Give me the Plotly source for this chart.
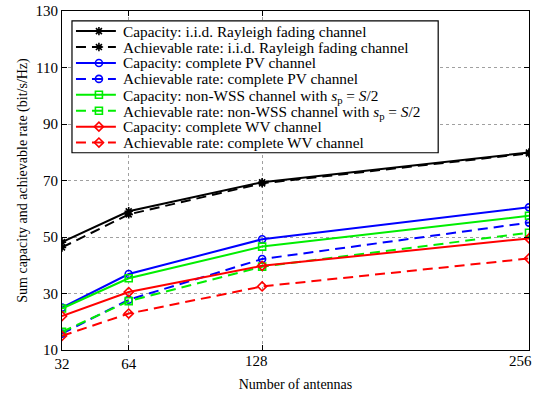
import plotly.graph_objects as go

antennas = [32, 64, 128, 256]
x_ticks = [32, 64, 128, 256]
x_tick_labels = ["32", "64", "128", "256"]
y_ticks = [10, 30, 50, 70, 90, 110, 130]

cap_iid = [48.2, 59.1, 69.4, 79.9]
rate_iid = [46.3, 58.0, 69.0, 79.6]
cap_pv = [25.0, 36.9, 49.2, 60.5]
rate_pv = [15.8, 27.8, 42.2, 55.1]
cap_nwss = [24.7, 35.4, 46.6, 57.5]
rate_nwss = [16.4, 27.3, 39.5, 51.5]
cap_wv = [22.0, 30.5, 39.8, 49.5]
rate_wv = [15.0, 22.9, 32.5, 42.4]

names = [
    "Capacity: i.i.d. Rayleigh fading channel",
    "Achievable rate: i.i.d. Rayleigh fading channel",
    "Capacity: complete PV channel",
    "Achievable rate: complete PV channel",
    "Capacity: non-WSS channel with <i>s</i><sub>p</sub> = <i>S</i>/2",
    "Achievable rate: non-WSS channel with <i>s</i><sub>p</sub> = <i>S</i>/2",
    "Capacity: complete WV channel",
    "Achievable rate: complete WV channel",
]
series = [cap_iid, rate_iid, cap_pv, rate_pv, cap_nwss, rate_nwss, cap_wv, rate_wv]
colors = ["#000000", "#000000", "#0000ff", "#0000ff", "#00ee00", "#00ee00", "#ff0000", "#ff0000"]
symbols = ["asterisk-open", "asterisk-open", "circle-open", "circle-open",
           "square-open", "square-open", "diamond-open", "diamond-open"]
dashes = ["solid", "10px,6px"] * 4

W, H = 533, 396
ML, MR, MT, MB = 62, 3, 8, 46
X_RANGE = [32, 256]
Y_RANGE = [10, 130]
font = "Liberation Serif, Times New Roman, serif"


def px_to_x(px):
    return X_RANGE[0] + (px - ML) / (W - MR - ML) * (X_RANGE[1] - X_RANGE[0])


def py_to_y(py):
    return Y_RANGE[1] - (py - MT) / (H - MB - MT) * (Y_RANGE[1] - Y_RANGE[0])


fig = go.Figure()
for n, s, c, sym, d in zip(names, series, colors, symbols, dashes):
    fig.add_trace(go.Scatter(
        x=antennas, y=s, name=n, mode="lines+markers", showlegend=False,
        line=dict(color=c, width=2, dash=d),
        marker=dict(symbol=sym, size=7, color=c, line=dict(color=c, width=1.6)),
    ))

# custom legend (box, samples, labels) placed in pixel units of the plot area
leg_left, leg_top, leg_right, leg_bottom = 72, 18, 439, 151
row0, row_step = 28.3, 16.06
samp_x0, samp_x1, samp_mid, text_x = 76, 116, 99, 121
for i, (n, c, sym, d) in enumerate(zip(names, colors, symbols, dashes)):
    yy = py_to_y(row0 + i * row_step)
    fig.add_trace(go.Scatter(x=[px_to_x(samp_x0), px_to_x(samp_x1)], y=[yy, yy], mode="lines",
                             showlegend=False, hoverinfo="skip", line=dict(color=c, width=2, dash=d)))
    fig.add_trace(go.Scatter(x=[px_to_x(samp_mid)], y=[yy], mode="markers",
                             showlegend=False, hoverinfo="skip",
                             marker=dict(symbol=sym, size=7, color=c, line=dict(color=c, width=1.6))))
    has_sub = "<sub>" in n
    fig.add_annotation(x=px_to_x(text_x), y=yy, xref="x", yref="y", text=n, showarrow=False,
                       xanchor="left", yanchor="middle", yshift=(-2 if has_sub else 0),
                       font=dict(family=font, size=15.3, color="black"))
fig.add_shape(type="rect", xref="x", yref="y",
              x0=px_to_x(leg_left), x1=px_to_x(leg_right), y0=py_to_y(leg_top), y1=py_to_y(leg_bottom),
              line=dict(color="black", width=1.2), fillcolor="white", layer="between")

# tick labels 128 and 256 sit slightly left of their ticks in the reference
label_shift = {128: -6, 256: -9}
for v, lab in zip(x_ticks, x_tick_labels):
    if v in label_shift:
        fig.add_annotation(x=v, y=0, xref="x", yref="paper", text=lab, showarrow=False,
                           xanchor="center", yanchor="top", xshift=label_shift[v], yshift=-1,
                           font=dict(family=font, size=15, color="black"))

axis_common = dict(
    showline=True, linecolor="black", linewidth=1.2, mirror="ticks",
    ticks="inside", ticklen=5, tickcolor="black",
    showgrid=True, gridcolor="#a0a0a0", griddash="dot", gridwidth=1,
    zeroline=False, tickfont=dict(family=font, size=15, color="black"),
)
fig.update_xaxes(range=X_RANGE, tickvals=x_ticks,
                 ticktext=[lab if v not in label_shift else "" for v, lab in zip(x_ticks, x_tick_labels)],
                 title=dict(text="Number of antennas", font=dict(family=font, size=14, color="black"), standoff=8),
                 **axis_common)
fig.update_yaxes(range=Y_RANGE, tickvals=y_ticks,
                 title=dict(text="Sum capacity and achievable rate (bit/s/Hz)", font=dict(family=font, size=14, color="black"), standoff=4),
                 **axis_common)
fig.update_layout(
    width=W, height=H,
    margin=dict(l=ML, r=MR, t=MT, b=MB),
    paper_bgcolor="white", plot_bgcolor="white",
    font=dict(family=font, color="black"),
    showlegend=False,
)
fig.write_html("out.html", config={"displayModeBar": False},
               post_script="document.body.style.margin='0';document.body.style.overflow='hidden';")
